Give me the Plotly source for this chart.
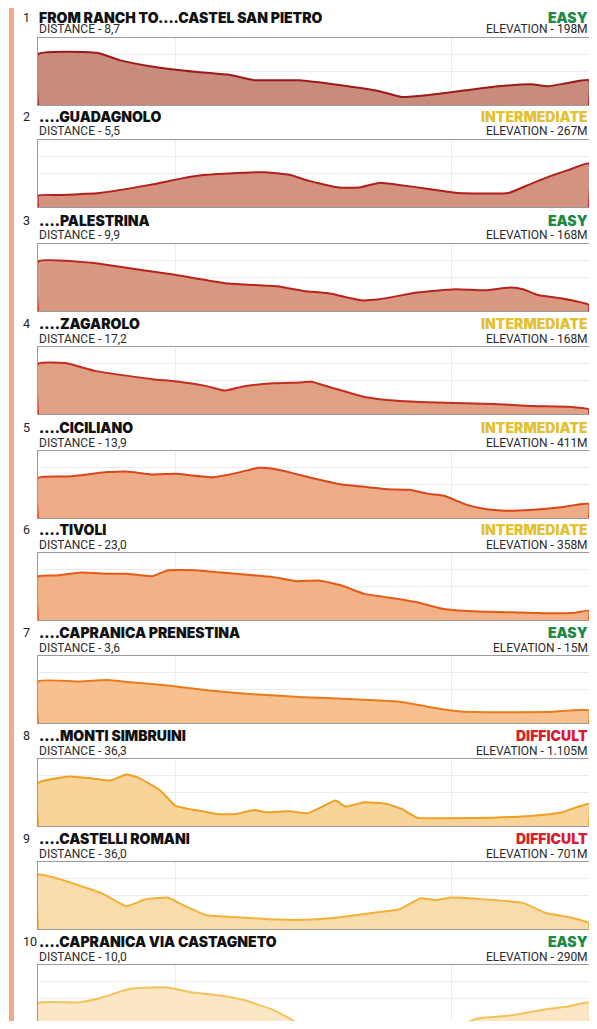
import plotly.graph_objects as go

# route info
numbers = ["1", "2", "3", "4", "5", "6", "7", "8", "9", "10"]
titles = [
    "FROM RANCH TO....CASTEL SAN PIETRO",
    "....GUADAGNOLO",
    "....PALESTRINA",
    "....ZAGAROLO",
    "....CICILIANO",
    "....TIVOLI",
    "....CAPRANICA PRENESTINA",
    "....MONTI SIMBRUINI",
    "....CASTELLI ROMANI",
    "....CAPRANICA VIA CASTAGNETO",
]
distances = ["8,7", "5,5", "9,9", "17,2", "13,9", "23,0", "3,6", "36,3", "36,0", "10,0"]
elevations = ["198M", "267M", "168M", "168M", "411M", "358M", "15M", "1.105M", "701M", "290M"]
levels = ["EASY", "INTERMEDIATE", "EASY", "INTERMEDIATE", "INTERMEDIATE",
          "INTERMEDIATE", "EASY", "DIFFICULT", "DIFFICULT", "EASY"]

# profiles: position along route (%) and relative height (%)
x1 = [0, 10.7, 14.8, 20.3, 29.3, 34.7, 39.2, 47.4, 54.6, 61.8, 66, 70.9, 77.6, 83.5, 89.5, 92.6, 96.2, 100]
h1 = [76, 78, 67, 58, 49, 45, 37, 37, 30, 21, 12, 15, 22, 28, 31, 28, 33, 37]
x2 = [0, 4, 11.2, 20.3, 25.7, 29.3, 34.7, 41, 45.6, 49.2, 54.6, 58.2, 61.8, 65.5, 70.9, 76.3, 85.4, 89, 92.6, 96.2, 100]
h2 = [17, 18, 21, 33, 42, 47, 50, 52, 48, 39, 29, 29, 36, 33, 27, 21, 21, 33, 45, 55, 65]
x3 = [0, 9.8, 13.9, 24.2, 34.5, 43.4, 48.2, 53, 58.5, 61.9, 68.8, 75.7, 81.1, 85.9, 88, 90.7, 94.9, 100]
h3 = [74, 72, 67, 55, 41, 37, 30, 26, 16, 17.5, 27.5, 32.5, 31, 35, 32.5, 24, 19, 9]
x4 = [0, 5, 10.5, 20.8, 24.9, 30.4, 33.8, 37.2, 42.7, 47.5, 49.6, 53, 58.5, 63.3, 72.2, 82.5, 89.4, 96.2, 100]
h4 = [75, 76, 64, 52, 49, 42, 35, 41, 46, 47, 48, 40, 27, 21, 17, 15, 12, 11, 7]
x5 = [0, 5.7, 12.6, 16, 20.8, 24.9, 31.8, 35.9, 40, 42.7, 46.2, 50.3, 55.1, 59.9, 63.3, 67.4, 70.9, 73.6, 77.7, 81.1, 84.6, 89.4, 94.9, 100]
h5 = [60, 62, 68.5, 69.5, 65, 66, 61, 67, 75, 73.5, 67, 58.5, 50, 46, 43, 42, 36, 33.5, 20, 13.5, 11, 12, 16, 21]
x6 = [0, 3.6, 7.8, 12.6, 16, 20.8, 23.5, 29, 34.5, 42.7, 46.8, 51, 55.1, 59.2, 65.4, 68.8, 73.6, 79.1, 86, 92.8, 97.6, 100]
h6 = [65, 66.5, 71, 69, 69, 65.5, 74, 74, 70, 64, 58, 59, 51.5, 39, 31.5, 26.5, 16.5, 13, 11.5, 10, 11, 14]
x7 = [0, 7.1, 12.6, 16.7, 23.5, 31.1, 37.9, 48.2, 56.4, 65.4, 70.9, 75.7, 82.5, 92.8, 100]
h7 = [62, 62, 64, 61, 56, 48.5, 43.5, 38.5, 36, 32, 24, 18, 16, 16.5, 19]
x8 = [0, 5.7, 9.8, 13.2, 16, 18, 22.2, 24.9, 29, 32.4, 35.9, 39.3, 41.4, 45.5, 48.9, 51.6, 54, 55.8, 59.2, 63.3, 66, 68.8, 74.3, 82.5, 89.4, 94.9, 100]
h8 = [64, 74, 71, 68, 77, 73, 53, 30.5, 23, 18, 18, 24, 20.5, 22, 19, 29, 38, 29, 35.5, 33, 25.5, 12.5, 11.5, 12.5, 15, 20, 33]
x9 = [0, 2.3, 7.1, 11.9, 16, 19.4, 23.5, 26.3, 30.4, 37.2, 43.4, 49.6, 55.1, 60.6, 65.4, 69.5, 72.2, 75, 79.8, 88, 92.1, 96.2, 100]
h9 = [81, 78, 66, 52, 34, 44, 47, 36, 21, 17, 14, 14, 18, 24, 29, 46, 43, 47, 45, 39, 24, 18, 9]
x10 = [0, 7.1, 11.2, 16.7, 20.8, 23.5, 27.6, 33.1, 37.2, 42.7, 46.8, 49.6, 53.7, 58.5, 64, 68.8, 72.9, 77, 79.8, 86, 91.4, 96.2, 100]
h10 = [43, 44, 50.5, 64.5, 66.5, 66.5, 59.5, 54.5, 48, 33, 15, 6, 5, 10, 15, 12.5, 11, 12.5, 20, 25, 33, 38, 44]

profile_x = [x1, x2, x3, x4, x5, x6, x7, x8, x9, x10]
profile_h = [h1, h2, h3, h4, h5, h6, h7, h8, h9, h10]

line_colors = ["#9c1a1a", "#b01e1e", "#b8241c", "#c52c1c", "#d8461a",
               "#e65a16", "#ec7a1c", "#eea022", "#f2b23a", "#f5c25a"]
fill_colors = ["#c98b7b", "#d3937f", "#d89882", "#e0a084", "#edab88",
               "#f3b187", "#f6c18f", "#f8d39a", "#f9dcab", "#fbe7c6"]
level_colors = {"EASY": "#1c8a44", "INTERMEDIATE": "#e2c233", "DIFFICULT": "#d61f2e"}

# the page puts the figure 8px in from the window edge, so size and place for that
OFF = 8
W, H = 597 - 2 * OFF, 1029 - 2 * OFF
box_tops = [38, 140, 244, 347, 451, 553, 656, 759, 862, 965]
box_h = 67
x_left, x_right = 38 - OFF, 589 - OFF

reg_font = "Roboto, sans-serif"
bold_font = "Inter, Roboto, sans-serif"

fig = go.Figure()

for i in range(10):
    ax = "" if i == 0 else str(i + 1)
    xs = [0] + profile_x[i] + [100]
    ys = [0] + profile_h[i] + [0]
    fig.add_trace(go.Scatter(
        x=xs, y=ys, mode="lines", fill="toself",
        fillcolor=fill_colors[i],
        line=dict(color=line_colors[i], width=2, shape="spline", smoothing=0.4),
        xaxis="x" + ax, yaxis="y" + ax, showlegend=False, hoverinfo="skip",
    ))

    top = box_tops[i] - OFF
    bottom = min(top + box_h, H)
    y_lo = 0 if top + box_h <= H else (top + box_h - H) / box_h * 100
    dom_y = [1 - bottom / H, 1 - top / H]

    fig.layout["xaxis" + ax] = dict(
        domain=[x_left / W, x_right / W], range=[0, 100], anchor="y" + ax,
        showticklabels=False, ticks="", zeroline=False,
        showgrid=True, gridcolor="#ececec", gridwidth=1, tickvals=[25, 75],
        showline=True, linecolor="#9a9a9a", linewidth=1, mirror=True,
    )
    fig.layout["yaxis" + ax] = dict(
        domain=dom_y, range=[y_lo, 100], anchor="x" + ax,
        showticklabels=False, ticks="", zeroline=False,
        showgrid=True, gridcolor="#ececec", gridwidth=1, tickvals=[50, 75],
        showline=True, linecolor="#9a9a9a", linewidth=1, mirror=True,
    )

    # first heading sits right at the top edge, keep it just inside
    ty = 1 - (top - (21.5 if i == 0 else 24)) / H
    dy = 1 - (top - 8.5) / H
    head = dict(xref="paper", yref="paper", yanchor="middle", showarrow=False,
                height=14, borderpad=0)
    sub = dict(xref="paper", yref="paper", yanchor="middle", showarrow=False,
               height=12, borderpad=0)
    fig.add_annotation(x=(22 - OFF) / W, y=ty, text=numbers[i], xanchor="left",
                       font=dict(family=reg_font, size=12.5, color="#222"), **head)
    fig.add_annotation(x=x_left / W, y=ty, text=titles[i], xanchor="left",
                       font=dict(family=bold_font, size=14, color="#111", weight=900), **head)
    fig.add_annotation(x=x_right / W, y=ty, text=levels[i], xanchor="right",
                       font=dict(family=bold_font, size=14, color=level_colors[levels[i]],
                                 weight=900), **head)
    fig.add_annotation(x=x_left / W, y=dy, text="DISTANCE - " + distances[i], xanchor="left",
                       font=dict(family=reg_font, size=12, color="#2a2a2a"), **sub)
    fig.add_annotation(x=x_right / W, y=dy, text="ELEVATION - " + elevations[i], xanchor="right",
                       font=dict(family=reg_font, size=12, color="#2a2a2a"), **sub)

# salmon bar on the left
fig.add_shape(type="rect", xref="paper", yref="paper", x0=(9 - OFF) / W, x1=(14 - OFF) / W,
              y0=0, y1=1, fillcolor="#efaa8c", line=dict(width=0), layer="below")

fig.update_layout(
    width=W, height=H, margin=dict(l=0, r=0, t=0, b=0),
    paper_bgcolor="white", plot_bgcolor="white",
)

fig.write_html("out.html")
